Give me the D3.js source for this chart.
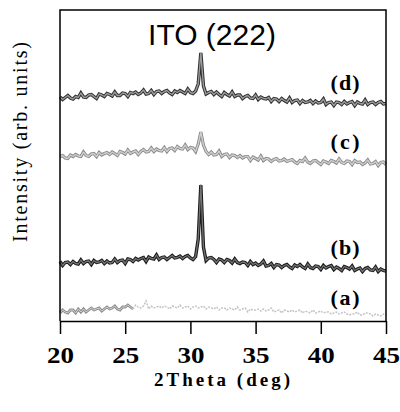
<!DOCTYPE html>
<html>
<head>
<meta charset="utf-8">
<script src="https://cdn.jsdelivr.net/npm/d3@7"></script>
<style>
  body { margin: 0; background: #fff; }
  svg { display: block; }
</style>
</head>
<body>
<div id="vis1"></div>
<script>
const FRAME_HEIGHT = 412;
const FRAME_WIDTH = 400;
const MARGINS = {left: 60, right: 14, top: 10, bottom: 91};

// 2theta grid, 0.2 deg steps from 20 to 45
const twoTheta = d3.range(20, 45.001, 0.2);
const xTicks = [20, 25, 30, 35, 40, 45];

// intensities (arb. units, offset stacked)
const seriesD = [
  224,221.5,223.5,225.5,223,222,224.5,223.5,228,224,
  223.5,226,226.5,224.5,222.5,227,226,224.5,227.5,226.5,
  225,229,225.5,225.5,228,227.5,224.5,228.5,227.5,229,
  226.5,228,231,227,227.5,230.5,226.5,229.5,230,227.5,
  229.5,230.5,228,226.5,230,228.5,230.5,229,227.5,232,
  228.5,227.5,230,237,268,235,227,228.5,229.5,226.5,
  229,226.5,224.5,228.5,226.5,225,229,224.5,226,226,
  222.5,224.5,225.5,223,222.5,226,221.5,224,222.5,222,
  223.5,219.5,222.5,222,219.5,222.5,220.5,219,223,218.5,
  220.5,221,217.5,220.5,218.5,219,220.5,217.5,220,218,
  218.5,222,216.5,218.5,219,215.5,219,218.5,216.5,219.5,
  217,218.5,219.5,215.5,219,217.5,217,221,216.5,218.5,
  219,216.5,218.5,219.5,217,217.5];
const seriesC = [
  164.5,165.5,163,162.5,166,164.5,166.5,165,164.5,169,
  165.5,164.5,167,167.5,164.5,168.5,166,167.5,168.5,166.5,
  169,167.5,165.5,169.5,168.5,167,171,167.5,169,170,
  166.5,169.5,171.5,169,169.5,173,169.5,172,170.5,170,
  173.5,169.5,172.5,173,170.5,174.5,172.5,172,176,171.5,
  173.5,173,169.5,177,189,176,169.5,166.5,169,166,
  166.5,170,164.5,166.5,167,163.5,166,165.5,163.5,165.5,
  163,164.5,164.5,160.5,164,162.5,161,165,160.5,162.5,
  162,159.5,161.5,162.5,160,160.5,162,159.5,160.5,161.5,
  159,157.5,160.5,159.5,163,159,157.5,160,160.5,158.5,
  156.5,160,159,157.5,160.5,159.5,158,162,158.5,157.5,
  160,159.5,156.5,160.5,158.5,159,156.5,158,161,157,
  157.5,159.5,155.5,158.5,159,156.5];
const seriesB = [
  59.5,55.5,58.5,59,56.5,59.5,57.5,57,61,57.5,
  59.5,60,56.5,60.5,58.5,59,60.5,57.5,60,58,
  58.5,62,58.5,60.5,61,57.5,62,61.5,59.5,62.5,
  61,62.5,63.5,59.5,64,62.5,62,66,61.5,63.5,
  64,61.5,63.5,65.5,63,63.5,65,62.5,64.5,65.5,
  63,61.5,64.5,82,136,74,60.5,63,63.5,61.5,
  58.5,62,61,58.5,61.5,60.5,58,62,58.5,57.5,
  59,58.5,55.5,59.5,56.5,58,55.5,57,60,55,
  55.5,57.5,53.5,56.5,56,53.5,55.5,56.5,54,52.5,
  56,54.5,56.5,54,52.5,57,53.5,52.5,55,54.5,
  51.5,55.5,53,54.5,55.5,51.5,54,52.5,50.5,54.5,
  53.5,52,55,50.5,52,53,49.5,52.5,53.5,51,
  50.5,54,49.5,52,50.5,50];
const seriesA = [
  8,11,9,8,11,11,8,12,9,12,
  9,11,13,11,12,13,10,12,14,12,
  13,15,12,11,14,14,16,14,12,16,
  14,13,15,20,12,15,13,14,15,13,
  15,14,12,15,14,13,16,13,14,15,
  12,14,15,13,14,15,12,14,13,12,
  14,11,13,13,11,13,12,11,14,11,
  12,13,9,12,11,11,12,10,12,10,
  11,13,9,10,11,8,11,10,9,11,
  9,10,11,8,10,9,8,11,8,9,
  10,8,9,9,7,8,9,7,8,9,
  7,6,7,7,9,6,6,8,8,7,
  5,7,6,5,7,6];

const labels = ["(a)", "(b)", "(c)", "(d)"];
const labelY = [16, 66, 172, 231]; // label baselines in data units

const FRAME1 = d3.select("#vis1")
  .append("svg")
    .attr("width", FRAME_WIDTH)
    .attr("height", FRAME_HEIGHT);

const x = d3.scaleLinear()
  .domain([20, 45])
  .range([MARGINS.left, FRAME_WIDTH - MARGINS.right]);

const y = d3.scaleLinear()
  .domain([0, 311])
  .range([FRAME_HEIGHT - MARGINS.bottom, MARGINS.top]);

const line = d3.line()
  .x(d => x(d[0]))
  .y(d => y(d[1]));

function pairs(vals) {
  return vals.map((v, i) => [twoTheta[i], v]);
}

// draws a noisy trace as dark edge + lighter core
function trace(pts, edge, edgeW, core, coreW, dash) {
  FRAME1.append("path")
    .attr("d", line(pts))
    .attr("fill", "none")
    .attr("stroke", edge)
    .attr("stroke-width", edgeW)
    .attr("stroke-dasharray", dash || null)
    .attr("stroke-linejoin", "miter")
    .attr("stroke-miterlimit", 3);
  if (core) {
    FRAME1.append("path")
      .attr("d", line(pts))
      .attr("fill", "none")
      .attr("stroke", core)
      .attr("stroke-width", coreW)
      .attr("stroke-linejoin", "round");
  }
}

const ptsA = pairs(seriesA);
trace(ptsA.slice(0, 29), "#8e8e8e", 2.8, "#d2d2d2", 1);
trace(ptsA.slice(28), "#c4c4c4", 1.5, null, 0, "2,1.2");
trace(pairs(seriesB), "#1c1c1c", 3.4, "#747474", 1.3);
trace(pairs(seriesC), "#8a8a8a", 3.2, "#cecece", 1.4);
trace(pairs(seriesD), "#303030", 3.4, "#9c9c9c", 1.4);

// frame
FRAME1.append("path")
  .attr("d", `M${x(20)},${y(0)}V${y(311)}H${x(45)}V${y(0)}`)
  .attr("fill", "none")
  .attr("stroke", "#000")
  .attr("stroke-width", 1.5);

// bottom axis
const xAxis = FRAME1.append("g")
  .attr("transform", `translate(0,${y(0)})`)
  .call(d3.axisBottom(x).tickValues(xTicks).tickSize(13).tickPadding(13).tickSizeOuter(0));
xAxis.select(".domain").attr("stroke", "#000").attr("stroke-width", 1.5);
xAxis.selectAll(".tick line").attr("stroke", "#000").attr("stroke-width", 1.5);
xAxis.selectAll(".tick text")
  .attr("fill", "#000")
  .attr("textLength", 27)
  .attr("lengthAdjust", "spacingAndGlyphs")
  .style("font-family", "'Liberation Serif', 'Times New Roman', serif")
  .style("font-weight", "bold")
  .style("font-size", "23px");

FRAME1.append("text")
  .attr("x", 222)
  .attr("y", 386)
  .attr("text-anchor", "middle")
  .attr("textLength", 136)
  .style("font-family", "'Liberation Serif', 'Times New Roman', serif")
  .style("font-weight", "bold")
  .style("font-size", "19px")
  .text("2Theta (deg)");

FRAME1.append("text")
  .attr("transform", "translate(27,142) rotate(-90)")
  .attr("text-anchor", "middle")
  .attr("textLength", 200)
  .style("font-family", "'Liberation Serif', 'Times New Roman', serif")
  .style("font-size", "20px")
  .text("Intensity (arb. units)");

FRAME1.append("text")
  .attr("x", 212)
  .attr("y", 45)
  .attr("text-anchor", "middle")
  .style("font-family", "'Liberation Sans', Arial, sans-serif")
  .style("font-size", "30px")
  .text("ITO (222)");

FRAME1.selectAll(".lab")
  .data(labels)
  .enter()
  .append("text")
    .attr("class", "lab")
    .attr("x", 345)
    .attr("y", (d, i) => y(labelY[i]))
    .attr("text-anchor", "middle")
    .attr("textLength", 29)
    .style("font-family", "'Liberation Serif', 'Times New Roman', serif")
    .style("font-weight", "bold")
    .style("font-size", "22px")
    .text(d => d);
</script>
</body>
</html>
